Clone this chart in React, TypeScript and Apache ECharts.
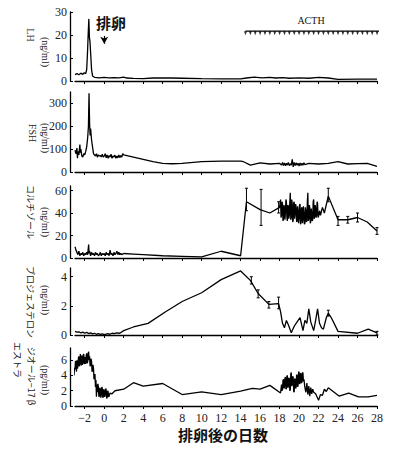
import React, { useEffect, useRef } from "react";
import * as echarts from "echarts";

const DAY_TICKS = [-2, 0, 2, 4, 6, 8, 10, 12, 14, 16, 18, 20, 22, 24, 26, 28];
const LH_TICKS = [0, 10, 20, 30];
const FSH_TICKS = [0, 100, 200, 300];
const CORT_TICKS = [0, 20, 40, 60];
const PROG_TICKS = [0, 2, 4];
const E2_TICKS = [0, 2, 4, 6];

const lhData = [[-3.0,2.8],[-2.8,3.2],[-2.6,2.7],[-2.4,3.4],[-2.2,2.9],[-2.05,3.6],[-1.9,3.2],[-1.8,5],[-1.72,12],[-1.65,20],[-1.58,27],[-1.52,19],[-1.46,17],[-1.38,11],[-1.3,5],[-1.2,2.2],[-1.0,1.6],[-0.5,1.4],[0,1.6],[0.5,1.4],[1,1.5],[1.5,1.4],[2,1.7],[2.3,1.3],[3,1.1],[4,1.0],[5,1.3],[6,1.4],[7,1.3],[8,1.2],[10,1.0],[12,0.9],[14,0.9],[14.6,1.3],[15.4,1.7],[16.2,1.4],[17,1.6],[17.6,1.3],[18.3,1.5],[19,1.2],[20,1.4],[21,1.2],[22,1.6],[23,1.3],[24,0.7],[26,0.8],[28,0.8]];

const fshData = [[-3.0,95],[-2.9,80],[-2.8,105],[-2.75,60],[-2.7,90],[-2.6,75],[-2.5,120],[-2.45,85],[-2.4,100],[-2.3,70],[-2.2,65],[-2.1,80],[-2.0,75],[-1.9,90],[-1.8,110],[-1.7,150],[-1.62,200],[-1.56,345],[-1.5,210],[-1.45,160],[-1.4,190],[-1.3,140],[-1.2,110],[-1.1,80],[-1.0,75],[-0.9,70],[-0.8,80],[-0.7,65],[-0.6,75],[-0.5,70],[-0.4,72],[-0.3,66],[-0.2,78],[-0.1,65],[0,70],[0.1,80],[0.2,62],[0.3,75],[0.4,60],[0.5,72],[0.6,65],[0.7,78],[0.8,60],[0.9,70],[1.0,66],[1.1,74],[1.2,60],[1.3,70],[1.4,62],[1.5,75],[1.6,63],[1.7,72],[1.8,65],[1.9,80],[2.0,75],[3,65],[4,55],[5,45],[6,38],[7,36],[8,38],[10,45],[12,48],[14,48],[14.3,45],[15,30],[16,40],[17,35],[18,38],[18.2,30],[18.3,42],[18.4,28],[18.5,40],[18.6,27],[18.7,38],[18.8,30],[18.9,42],[19.0,28],[19.1,36],[19.2,30],[19.3,55],[19.4,22],[19.5,42],[19.6,28],[19.7,40],[19.8,30],[19.9,38],[20.0,26],[20.1,40],[20.2,28],[20.3,38],[20.4,30],[20.5,40],[20.6,32],[21,38],[22,35],[23,38],[24,45],[25,35],[26,37],[27,38],[28,25]];

const cortData = [[-3,10],[-2.9,7],[-2.8,5],[-2.7,3],[-2.6,6],[-2.5,2],[-2.4,4],[-2.3,3],[-2.2,5],[-2.1,2],[-2,4],[-1.9,3],[-1.8,5],[-1.7,3],[-1.6,12],[-1.55,4],[-1.5,6],[-1.4,2],[-1.3,5],[-1.2,3],[-1.1,4],[-1.0,2],[-0.9,5],[-0.8,3],[-0.7,4],[-0.6,2],[-0.5,3],[-0.4,5],[-0.3,2],[-0.2,4],[-0.1,3],[0,4],[0.1,2],[0.2,5],[0.3,3],[0.4,4],[0.5,2],[0.6,7],[0.7,3],[0.8,4],[0.9,2],[1.0,5],[1.1,3],[1.2,4],[1.3,6],[1.4,3],[1.5,5],[1.6,3],[1.7,4],[1.8,3],[2.0,4],[3,3.5],[4,3],[6,2],[8,1.5],[10,1],[12,6],[14,2],[14.6,50],[16,43],[17,40],[18,45],[18.1,52],[18.15,36],[18.2,38],[18.25,50],[18.3,48],[18.35,33],[18.4,35],[18.45,47],[18.5,45],[18.55,34],[18.6,40],[18.65,52],[18.7,50],[18.75,36],[18.8,33],[18.85,47],[18.9,46],[18.95,35],[19.0,38],[19.05,50],[19.1,58],[19.15,34],[19.2,36],[19.25,52],[19.3,48],[19.35,32],[19.4,34],[19.45,49],[19.5,50],[19.55,35],[19.6,40],[19.65,48],[19.7,45],[19.75,32],[19.8,33],[19.85,46],[19.9,42],[19.95,31],[20.0,35],[20.05,47],[20.1,48],[20.15,30],[20.2,32],[20.25,44],[20.3,45],[20.35,31],[20.4,34],[20.45,46],[20.5,40],[20.55,30],[20.6,31],[20.65,45],[20.7,42],[20.75,32],[20.8,33],[20.85,50],[20.9,58],[20.95,33],[21.0,35],[21.05,47],[21.1,45],[21.15,31],[21.2,32],[21.25,44],[21.3,40],[21.35,33],[21.4,34],[21.45,50],[21.5,52],[21.55,35],[21.6,36],[21.65,47],[21.7,44],[21.75,36],[21.8,38],[21.85,50],[21.9,48],[21.95,36],[22.0,37],[22.1,42],[22.2,38],[22.4,45],[22.6,40],[23,55],[24,34],[25,34],[26,36],[27,32],[28,24]];

const progData = [[-3,0.25],[-2.8,0.2],[-2.6,0.22],[-2.4,0.15],[-2.2,0.2],[-2,0.12],[-1.8,0.18],[-1.6,0.1],[-1.4,0.15],[-1.2,0.08],[-1,0.12],[-0.8,0.05],[-0.6,0.1],[-0.4,0.04],[-0.2,0.08],[0,0.02],[0.2,0.06],[0.4,0.1],[0.6,0.05],[0.8,0.12],[1,0.1],[1.3,0.15],[1.6,0.12],[2,0.3],[3,0.55],[4.5,0.8],[6.3,1.6],[8,2.3],[10,2.9],[12,3.8],[14,4.4],[15,3.75],[15.8,2.85],[16.9,2.1],[17.9,2.15],[18.1,1.6],[18.3,0.8],[18.5,0.5],[18.7,1.0],[18.9,0.7],[19.2,0.15],[19.5,0.6],[19.8,0.9],[20.1,1.2],[20.4,0.3],[20.6,1.0],[20.8,0.8],[21.0,1.8],[21.2,0.9],[21.5,0.3],[21.7,1.0],[21.9,1.8],[22.1,0.8],[22.3,0.5],[22.5,0.4],[22.8,1.2],[23.0,1.5],[23.3,1.2],[24,0.25],[26,0.12],[27.1,0.4],[28,0.15]];

const e2Data = [[-3.1,4.0],[-3.05,5.0],[-3.0,4.8],[-2.95,5.9],[-2.9,5.5],[-2.85,4.5],[-2.8,6.0],[-2.75,4.9],[-2.7,5.2],[-2.65,6.3],[-2.6,6.5],[-2.55,5.2],[-2.5,5.5],[-2.45,6.8],[-2.4,6.0],[-2.35,5.3],[-2.3,6.6],[-2.25,5.4],[-2.2,5.6],[-2.15,6.7],[-2.1,6.8],[-2.05,5.5],[-2.0,5.8],[-1.95,6.4],[-1.9,5.5],[-1.85,6.6],[-1.8,6.9],[-1.75,5.6],[-1.7,5.8],[-1.65,6.9],[-1.6,7.1],[-1.55,6.0],[-1.5,6.5],[-1.45,5.2],[-1.4,5.4],[-1.35,6.2],[-1.3,5.8],[-1.25,4.5],[-1.2,4.6],[-1.15,5.4],[-1.1,4.9],[-1.05,3.5],[-1.0,3.8],[-0.95,4.2],[-0.9,2.5],[-0.85,3.4],[-0.8,1.2],[-0.75,2.8],[-0.7,1.8],[-0.65,2.9],[-0.6,2.5],[-0.55,1.2],[-0.5,1.3],[-0.45,2.4],[-0.4,2.2],[-0.35,1.1],[-0.3,1.4],[-0.25,2.5],[-0.2,2.3],[-0.15,1.1],[-0.1,1.2],[-0.05,2.2],[0,2.0],[0.05,1.2],[0.1,1.5],[0.15,2.3],[0.2,2.1],[0.25,1.0],[0.3,1.1],[0.35,2.0],[0.4,1.9],[0.45,1.2],[0.5,1.3],[0.6,1.7],[0.8,1.6],[1.1,2.0],[2,2.2],[3,3.05],[4,2.6],[6,2.95],[8,1.5],[10,1.85],[12,1.5],[14,1.95],[15.2,2.3],[16,2.2],[17,2.7],[18.1,1.7],[18.2,2.8],[18.25,2.0],[18.3,2.2],[18.35,3.3],[18.4,3.5],[18.45,2.3],[18.5,2.5],[18.55,3.6],[18.6,3.8],[18.65,2.2],[18.7,2.3],[18.75,3.9],[18.8,4.0],[18.85,2.4],[18.9,2.6],[18.95,3.7],[19.0,3.6],[19.05,2.0],[19.1,2.1],[19.15,4.2],[19.2,4.4],[19.25,2.6],[19.3,2.8],[19.35,3.9],[19.4,3.7],[19.45,1.9],[19.5,1.8],[19.55,3.6],[19.6,3.5],[19.65,2.3],[19.7,2.5],[19.75,4.1],[19.8,4.0],[19.85,2.5],[19.9,2.7],[19.95,4.4],[20.0,4.5],[20.05,2.9],[20.1,3.0],[20.15,4.3],[20.2,4.2],[20.25,3.0],[20.3,3.2],[20.35,4.4],[20.4,4.3],[20.45,3.2],[20.5,3.5],[20.6,2.4],[20.7,1.8],[20.8,3.0],[20.9,1.5],[21.0,2.6],[21.1,1.3],[21.2,2.4],[21.3,1.6],[21.4,2.2],[21.5,1.8],[21.7,1.6],[22.0,0.75],[22.2,1.5],[22.4,1.4],[22.6,2.2],[22.8,1.9],[23.0,2.4],[24.1,1.3],[25.1,1.7],[26.1,1.2],[27.1,1.2],[28,1.4]];

const cortErr = [[14.6,42,62],[16.1,29,61],[17.9,40,50],[23.0,50,62],[24.0,29,37],[25.0,31,37],[26.0,32,40],[28.0,21,27]];
const progErr = [[15.1,3.5,4.0],[15.8,2.55,3.1],[16.9,1.85,2.3],[17.9,1.8,2.6],[23.0,1.3,1.7],[28.0,0,0.25]];

const acthDays = [14.5,15,15.5,16,16.5,17,17.5,18,18.5,19,19.5,20,20.5,21,21.5,22,22.5,23,23.5,24,24.5,25,25.5,26,26.5,27,27.5,28];
const ACTH_LEVEL = 21.7;

const SERIF = "'Liberation Serif', 'DejaVu Serif', serif";
const CJK = "'Noto Sans CJK JP', sans-serif";

const grids = [
  { top: 12, height: 69, max: 30, ticks: LH_TICKS },
  { top: 92, height: 80, max: 350, ticks: FSH_TICKS },
  { top: 186, height: 72, max: 64, ticks: CORT_TICKS },
  { top: 268, height: 67, max: 4.6, ticks: PROG_TICKS },
  { top: 348, height: 58, max: 7.6, ticks: E2_TICKS },
];

function errRender(params: any, api: any) {
  const x = api.value(0);
  const p1 = api.coord([x, api.value(1)]);
  const p2 = api.coord([x, api.value(2)]);
  const st = { stroke: "#000", lineWidth: 1 };
  return {
    type: "group",
    children: [
      { type: "line", shape: { x1: p1[0], y1: p1[1], x2: p2[0], y2: p2[1] }, style: st },
      { type: "line", shape: { x1: p1[0] - 1.5, y1: p1[1], x2: p1[0] + 1.5, y2: p1[1] }, style: st },
      { type: "line", shape: { x1: p2[0] - 1.5, y1: p2[1], x2: p2[0] + 1.5, y2: p2[1] }, style: st },
    ],
  };
}

function rotText(text: string, x: number, y: number, font: string, size: number) {
  return {
    type: "text",
    x,
    y,
    rotation: -Math.PI / 2,
    style: { text, font: `${size}px ${font}`, fill: "#222", align: "center", verticalAlign: "middle" },
  };
}

export default function App() {
  const ref = useRef<HTMLDivElement>(null);
  useEffect(() => {
    const chart = echarts.init(ref.current!, null, { renderer: "svg" });
    const lineSeries = (data: number[][], i: number) => ({
      type: "line",
      xAxisIndex: i,
      yAxisIndex: i,
      data,
      showSymbol: false,
      lineStyle: { color: "#000", width: 1.3 },
      silent: true,
    });
    const option: any = {
      animation: false,
      backgroundColor: "#fff",
      grid: grids.map((g) => ({ left: 75, right: 20, top: g.top, height: g.height })),
      xAxis: grids.map((g, i) => ({
        type: "value",
        gridIndex: i,
        min: -3,
        max: 28,
        axisLine: { show: true, onZero: false, lineStyle: { color: "#000", width: 1.3 } },
        axisTick: { show: true, customValues: DAY_TICKS, length: 3, lineStyle: { color: "#000", width: 1 } },
        axisLabel: {
          show: i === 4,
          customValues: DAY_TICKS,
          formatter: (v: number) => (v < 0 ? "\u2212" + -v : String(v)),
          fontFamily: SERIF,
          fontSize: 12,
          color: "#222",
          margin: 6,
        },
        splitLine: { show: false },
      })),
      yAxis: grids.map((g, i) => ({
        type: "value",
        gridIndex: i,
        min: 0,
        max: g.max,
        offset: 5,
        axisLine: { show: true, onZero: false, lineStyle: { color: "#000", width: 1.3 } },
        axisTick: { show: true, inside: true, customValues: g.ticks, length: 3, lineStyle: { color: "#000" } },
        axisLabel: { customValues: g.ticks, fontFamily: SERIF, fontSize: 12, color: "#222", margin: 3 },
        splitLine: { show: false },
      })),
      series: [
        {
          ...lineSeries(lhData, 0),
          markLine: {
            silent: true,
            symbol: ["none", "arrow"],
            symbolSize: [6, 7],
            lineStyle: { color: "#000", width: 1.2, type: "solid" },
            label: { show: false },
            data: [[{ coord: [0, 19.6] }, { coord: [0, 16.2] }]],
          },
        },
        lineSeries(fshData, 1),
        lineSeries(cortData, 2),
        lineSeries(progData, 3),
        lineSeries(e2Data, 4),
        {
          type: "line",
          xAxisIndex: 0,
          yAxisIndex: 0,
          data: [[acthDays[0], ACTH_LEVEL], [acthDays[acthDays.length - 1] + 0.2, ACTH_LEVEL]],
          showSymbol: false,
          lineStyle: { color: "#000", width: 1.2 },
          silent: true,
        },
        {
          type: "scatter",
          xAxisIndex: 0,
          yAxisIndex: 0,
          data: acthDays.map((d) => [d, ACTH_LEVEL - 0.9]),
          symbol: "triangle",
          symbolRotate: 180,
          symbolSize: [3, 4],
          itemStyle: { color: "#000" },
          silent: true,
        },
        {
          type: "custom",
          xAxisIndex: 2,
          yAxisIndex: 2,
          data: cortErr,
          encode: { x: 0, y: [1, 2] },
          renderItem: errRender,
          silent: true,
        },
        {
          type: "custom",
          xAxisIndex: 3,
          yAxisIndex: 3,
          data: progErr,
          encode: { x: 0, y: [1, 2] },
          renderItem: errRender,
          silent: true,
        },
      ],
      graphic: [
        { type: "text", x: 111, y: 22, style: { text: "排卵", font: `bold 15px ${CJK}`, fill: "#111", align: "center", verticalAlign: "middle" } },
        { type: "text", x: 311, y: 20, style: { text: "ACTH", font: `10px ${SERIF}`, fill: "#111", align: "center", verticalAlign: "middle" } },
        { type: "text", x: 223, y: 434, style: { text: "排卵後の日数", font: `bold 15px ${CJK}`, fill: "#111", align: "center", verticalAlign: "middle" } },
        rotText("LH", 30, 35, SERIF, 10),
        rotText("(ng/ml)", 45, 52, SERIF, 10),
        rotText("FSH", 32, 133, SERIF, 10),
        rotText("(ng/ml)", 45, 138, SERIF, 10),
        rotText("コルチゾール", 30, 212, CJK, 9),
        rotText("(ng/ml)", 45, 222, SERIF, 10),
        rotText("プロジェステロン", 30, 302, CJK, 9),
        rotText("(ng/ml)", 45, 300, SERIF, 10),
        rotText("エストラ", 17, 360, CJK, 9),
        rotText("ジオール−17 β", 31, 376, CJK, 9),
        rotText("(pg/ml)", 45, 380, SERIF, 10),
      ],
    };
    chart.setOption(option);
    return () => chart.dispose();
  }, []);
  return <div ref={ref} style={{ position: "fixed", left: 0, top: 0, width: 397, height: 455, background: "#fff" }} />;
}
